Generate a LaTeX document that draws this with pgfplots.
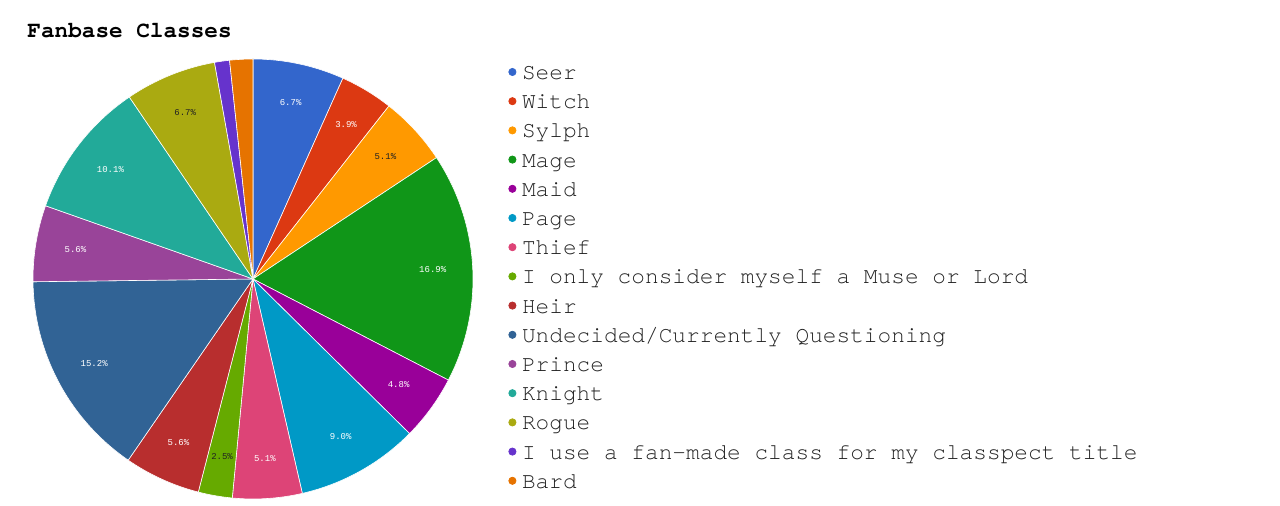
\documentclass[border=0pt]{standalone}
\usepackage{pgfplots}
\pgfplotsset{compat=1.18}
\usepackage{pgfplotstable}
\usepackage{fontspec}
\setmainfont{Liberation Mono}
\newfontfamily\labfam{Liberation Mono}
\newfontfamily\monofam{texgyrecursor}[Extension=.otf, UprightFont=*-regular, BoldFont=*-bold]
\newcommand\legfont{\monofam\fontsize{11.4}{13}\selectfont}
\newcommand\titlefont{\monofam\bfseries\fontsize{11.35}{13}\selectfont}
\newcommand\labfont{\labfam\fontsize{4.5}{5}\selectfont}

\definecolor{cSeer}{HTML}{3366CC}
\definecolor{cWitch}{HTML}{DC3912}
\definecolor{cSylph}{HTML}{FF9900}
\definecolor{cMage}{HTML}{109618}
\definecolor{cMaid}{HTML}{990099}
\definecolor{cPage}{HTML}{0099C6}
\definecolor{cThief}{HTML}{DD4477}
\definecolor{cMuse}{HTML}{66AA00}
\definecolor{cHeir}{HTML}{B82E2E}
\definecolor{cUndec}{HTML}{316395}
\definecolor{cPrince}{HTML}{994499}
\definecolor{cKnight}{HTML}{22AA99}
\definecolor{cRogue}{HTML}{AAAA11}
\definecolor{cFan}{HTML}{6633CC}
\definecolor{cBard}{HTML}{E67300}
\definecolor{labdark}{HTML}{222222}
\definecolor{legtext}{HTML}{222222}

\pgfplotstableread{
key value col lab
Seer 6.7 cSeer white
Witch 3.9 cWitch white
Sylph 5.1 cSylph labdark
Mage 16.9 cMage white
Maid 4.8 cMaid white
Page 9.0 cPage white
Thief 5.1 cThief white
Muse 2.5 cMuse labdark
Heir 5.6 cHeir white
Undecided 15.2 cUndec white
Prince 5.6 cPrince white
Knight 10.1 cKnight white
Rogue 6.7 cRogue labdark
Fanmade 1.1 cFan white
Bard 1.7 cBard white
}\classes

\begin{document}
\begin{tikzpicture}
\begin{axis}[
  hide axis, clip=false,
  x=0.5pt, y=0.5pt,
  xmin=0, xmax=1280, ymin=0, ymax=506,
  legend cell align=left,
  legend image code/.code={\fill (0pt,0pt) circle (1.8pt);},
  legend style={at={(axis cs:508.4,442.5)}, anchor=north west,
    draw=none, fill=none, inner sep=0pt, outer sep=0pt,
    row sep=6.1pt, column sep=2.8pt, font=\legfont,
    nodes={inner sep=0pt, text height=8pt, text depth=0.5pt, text=legtext}},
]
\path (axis cs:0,0) rectangle (axis cs:1280,506);
\gdef\cum{0}
\pgfplotsinvokeforeach{0,...,14}{
  \pgfplotstablegetelem{#1}{value}\of\classes \let\val\pgfplotsretval
  \pgfplotstablegetelem{#1}{col}\of\classes \let\col\pgfplotsretval
  \pgfplotstablegetelem{#1}{lab}\of\classes \let\lab\pgfplotsretval
  \pgfmathsetmacro{\angA}{90-3.6*\cum}
  \pgfmathsetmacro{\angB}{90-3.6*(\cum+\val)}
  \pgfmathsetmacro{\angM}{(\angA+\angB)/2}
  \edef\temp{\noexpand\fill[\col, draw=white, line width=0.3pt] (axis cs:253,227) -- ++(\angA:110pt) arc[start angle=\angA, end angle=\angB, radius=110pt] -- cycle;}
  \temp
  \ifdim\val pt>2pt
    \edef\temp{\noexpand\node[text=\lab, font=\noexpand\labfont, inner sep=0pt, shift={(\angM:90pt)}] at (axis cs:253,227) {\val\noexpand\%};}
    \temp
  \fi
  \pgfmathsetmacro{\newcum}{\cum+\val}
  \xdef\cum{\newcum}
}
\node[anchor=base west, font=\titlefont, text=black, inner sep=0pt] at (axis cs:27,468.5) {Fanbase Classes};

\addlegendimage{color=cSeer}\addlegendentry{Seer}
\addlegendimage{color=cWitch}\addlegendentry{Witch}
\addlegendimage{color=cSylph}\addlegendentry{Sylph}
\addlegendimage{color=cMage}\addlegendentry{Mage}
\addlegendimage{color=cMaid}\addlegendentry{Maid}
\addlegendimage{color=cPage}\addlegendentry{Page}
\addlegendimage{color=cThief}\addlegendentry{Thief}
\addlegendimage{color=cMuse}\addlegendentry{I only consider myself a Muse or Lord}
\addlegendimage{color=cHeir}\addlegendentry{Heir}
\addlegendimage{color=cUndec}\addlegendentry{Undecided/Currently Questioning}
\addlegendimage{color=cPrince}\addlegendentry{Prince}
\addlegendimage{color=cKnight}\addlegendentry{Knight}
\addlegendimage{color=cRogue}\addlegendentry{Rogue}
\addlegendimage{color=cFan}\addlegendentry{I use a fan-made class for my classpect title}
\addlegendimage{color=cBard}\addlegendentry{Bard}
\end{axis}
\end{tikzpicture}
\end{document}
